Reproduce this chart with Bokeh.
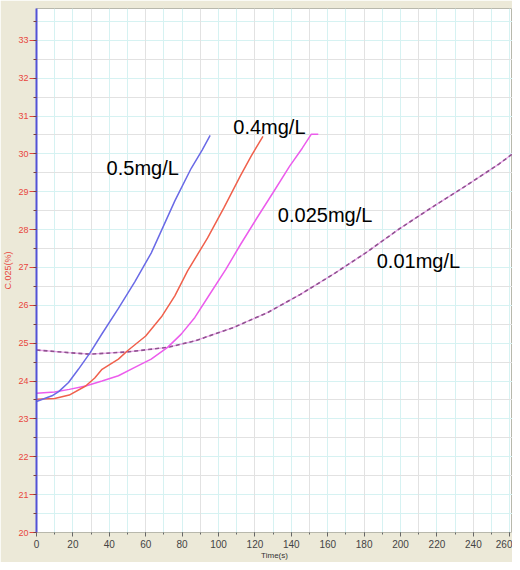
from bokeh.plotting import figure
from bokeh.models import SingleIntervalTicker, FixedTicker, Grid, Label, Range1d
from bokeh.embed import file_html
from bokeh.resources import INLINE

# ---- data ----
t_05 = [0, 8.5, 12.2, 17.6, 23, 29.5, 36, 45, 54, 63, 67, 76, 85, 91, 95.4]
c_05 = [23.46, 23.61, 23.72, 23.96, 24.31, 24.75, 25.25, 25.92, 26.62, 27.38, 27.80, 28.76, 29.62, 30.10, 30.49]

t_04 = [0, 10, 18, 27, 32, 36, 45, 50, 60, 69, 76, 83, 94, 103, 112, 118, 124.4]
c_04 = [23.52, 23.54, 23.63, 23.87, 24.08, 24.31, 24.58, 24.80, 25.19, 25.72, 26.25, 26.91, 27.78, 28.58, 29.42, 29.95, 30.46]

t_0025 = [0, 10, 18, 27, 36, 45, 54, 63, 72, 79.5, 87, 95, 104, 112, 121, 130, 139, 146, 151, 154.8]
c_0025 = [23.68, 23.71, 23.78, 23.87, 24.00, 24.14, 24.36, 24.58, 24.89, 25.24, 25.68, 26.28, 26.95, 27.60, 28.30, 28.98, 29.67, 30.15, 30.52, 30.52]

t_001 = [0, 17.6, 29.5, 50, 72, 87, 108, 127, 145, 163, 181, 199, 217, 236, 254, 261.5]
c_001 = [24.82, 24.75, 24.71, 24.77, 24.89, 25.06, 25.41, 25.81, 26.29, 26.82, 27.39, 28.01, 28.58, 29.16, 29.73, 30.0]

series_names = ["0.5mg/L", "0.4mg/L", "0.025mg/L", "0.01mg/L"]
label_x = [38.5, 108.1, 132.6, 186.9]
label_y = [29.62, 30.72, 28.39, 27.16]

x_ticks_interval = 20
y_ticks_interval = 1
x_grid_cyan = [10, 20, 40, 50, 70, 80, 100, 110, 130, 140, 160, 170, 190, 200, 220, 230, 250, 260]
x_grid_gray = [30, 60, 90, 120, 150, 180, 210, 240]
y_grid_cyan = [21, 22, 23, 24, 25, 26, 27, 28, 29, 30, 31, 32, 33, 20.5, 33.5]
y_grid_gray = [21.5, 22.5, 23.5, 24.5, 25.5, 26.5, 27.5, 28.5, 29.5, 30.5, 31.5, 32.5]

BEIGE = "#ECE9D8"
RED = "#e8463c"

p = figure(width=512, height=562, x_range=Range1d(0, 261.5), y_range=Range1d(20, 33.84),
           output_backend="svg", toolbar_location=None,
           min_border_left=33, min_border_right=0, min_border_top=8, min_border_bottom=30,
           background_fill_color="white", border_fill_color=BEIGE)
p.outline_line_color = "#b8b8ac"
p.outline_line_width = 1

# grids
p.xgrid[0].ticker = FixedTicker(ticks=x_grid_cyan)
p.xgrid[0].grid_line_color = "#d6f2f2"
p.ygrid[0].ticker = FixedTicker(ticks=y_grid_cyan)
p.ygrid[0].grid_line_color = "#d6f2f2"
p.add_layout(Grid(dimension=0, ticker=FixedTicker(ticks=x_grid_gray), grid_line_color="#e2e2e2"))
p.add_layout(Grid(dimension=1, ticker=FixedTicker(ticks=y_grid_gray), grid_line_color="#e2e2e2"))

# x axis
xa = p.xaxis[0]
xa.ticker = SingleIntervalTicker(interval=x_ticks_interval, num_minor_ticks=2)
xa.axis_line_color = None
xa.major_tick_in = 0
xa.major_tick_out = 4
xa.major_tick_line_color = "#666666"
xa.minor_tick_in = 0
xa.minor_tick_out = 2
xa.minor_tick_line_color = "#666666"
xa.major_label_text_font = "Liberation Sans"
xa.major_label_text_font_size = "10px"
xa.major_label_text_color = "#444444"
xa.major_label_standoff = 3
xa.axis_label = "Time(s)"
xa.axis_label_text_font = "Liberation Sans"
xa.axis_label_text_font_size = "8px"
xa.axis_label_text_font_style = "normal"
xa.axis_label_text_color = "#333333"
xa.axis_label_standoff = 0

# y axis
ya = p.yaxis[0]
ya.ticker = SingleIntervalTicker(interval=y_ticks_interval, num_minor_ticks=2)
ya.axis_line_color = "#5252d6"
ya.axis_line_width = 2
ya.major_tick_in = 0
ya.major_tick_out = 7
ya.major_tick_line_color = RED
ya.minor_tick_in = 0
ya.minor_tick_out = 3
ya.minor_tick_line_color = "#7a4040"
ya.major_label_text_font = "Liberation Sans"
ya.major_label_text_font_size = "9px"
ya.major_label_text_color = RED
ya.major_label_standoff = 1
ya.axis_label = "C.025(%)"
ya.axis_label_text_font = "Liberation Sans"
ya.axis_label_text_font_size = "9px"
ya.axis_label_text_font_style = "normal"
ya.axis_label_text_color = RED
ya.axis_label_standoff = 2

# curves
p.line(t_001, c_001, line_color="#eaa6ea", line_width=1.3)
p.line(t_001, c_001, line_color="#8f528f", line_width=1.6, line_dash="4 3")
p.line(t_0025, c_0025, line_color="#ec5cec", line_width=1.5)
p.line(t_04, c_04, line_color="#f0604c", line_width=1.5)
p.line(t_05, c_05, line_color="#6a6ae6", line_width=1.5)

for name, lx, ly in zip(series_names, label_x, label_y):
    p.add_layout(Label(x=lx, y=ly, text=name, text_font="Liberation Sans",
                       text_font_size="20px", text_color="black",
                       text_baseline="alphabetic", text_align="left"))

open("out.html", "w").write(file_html(p, INLINE))
